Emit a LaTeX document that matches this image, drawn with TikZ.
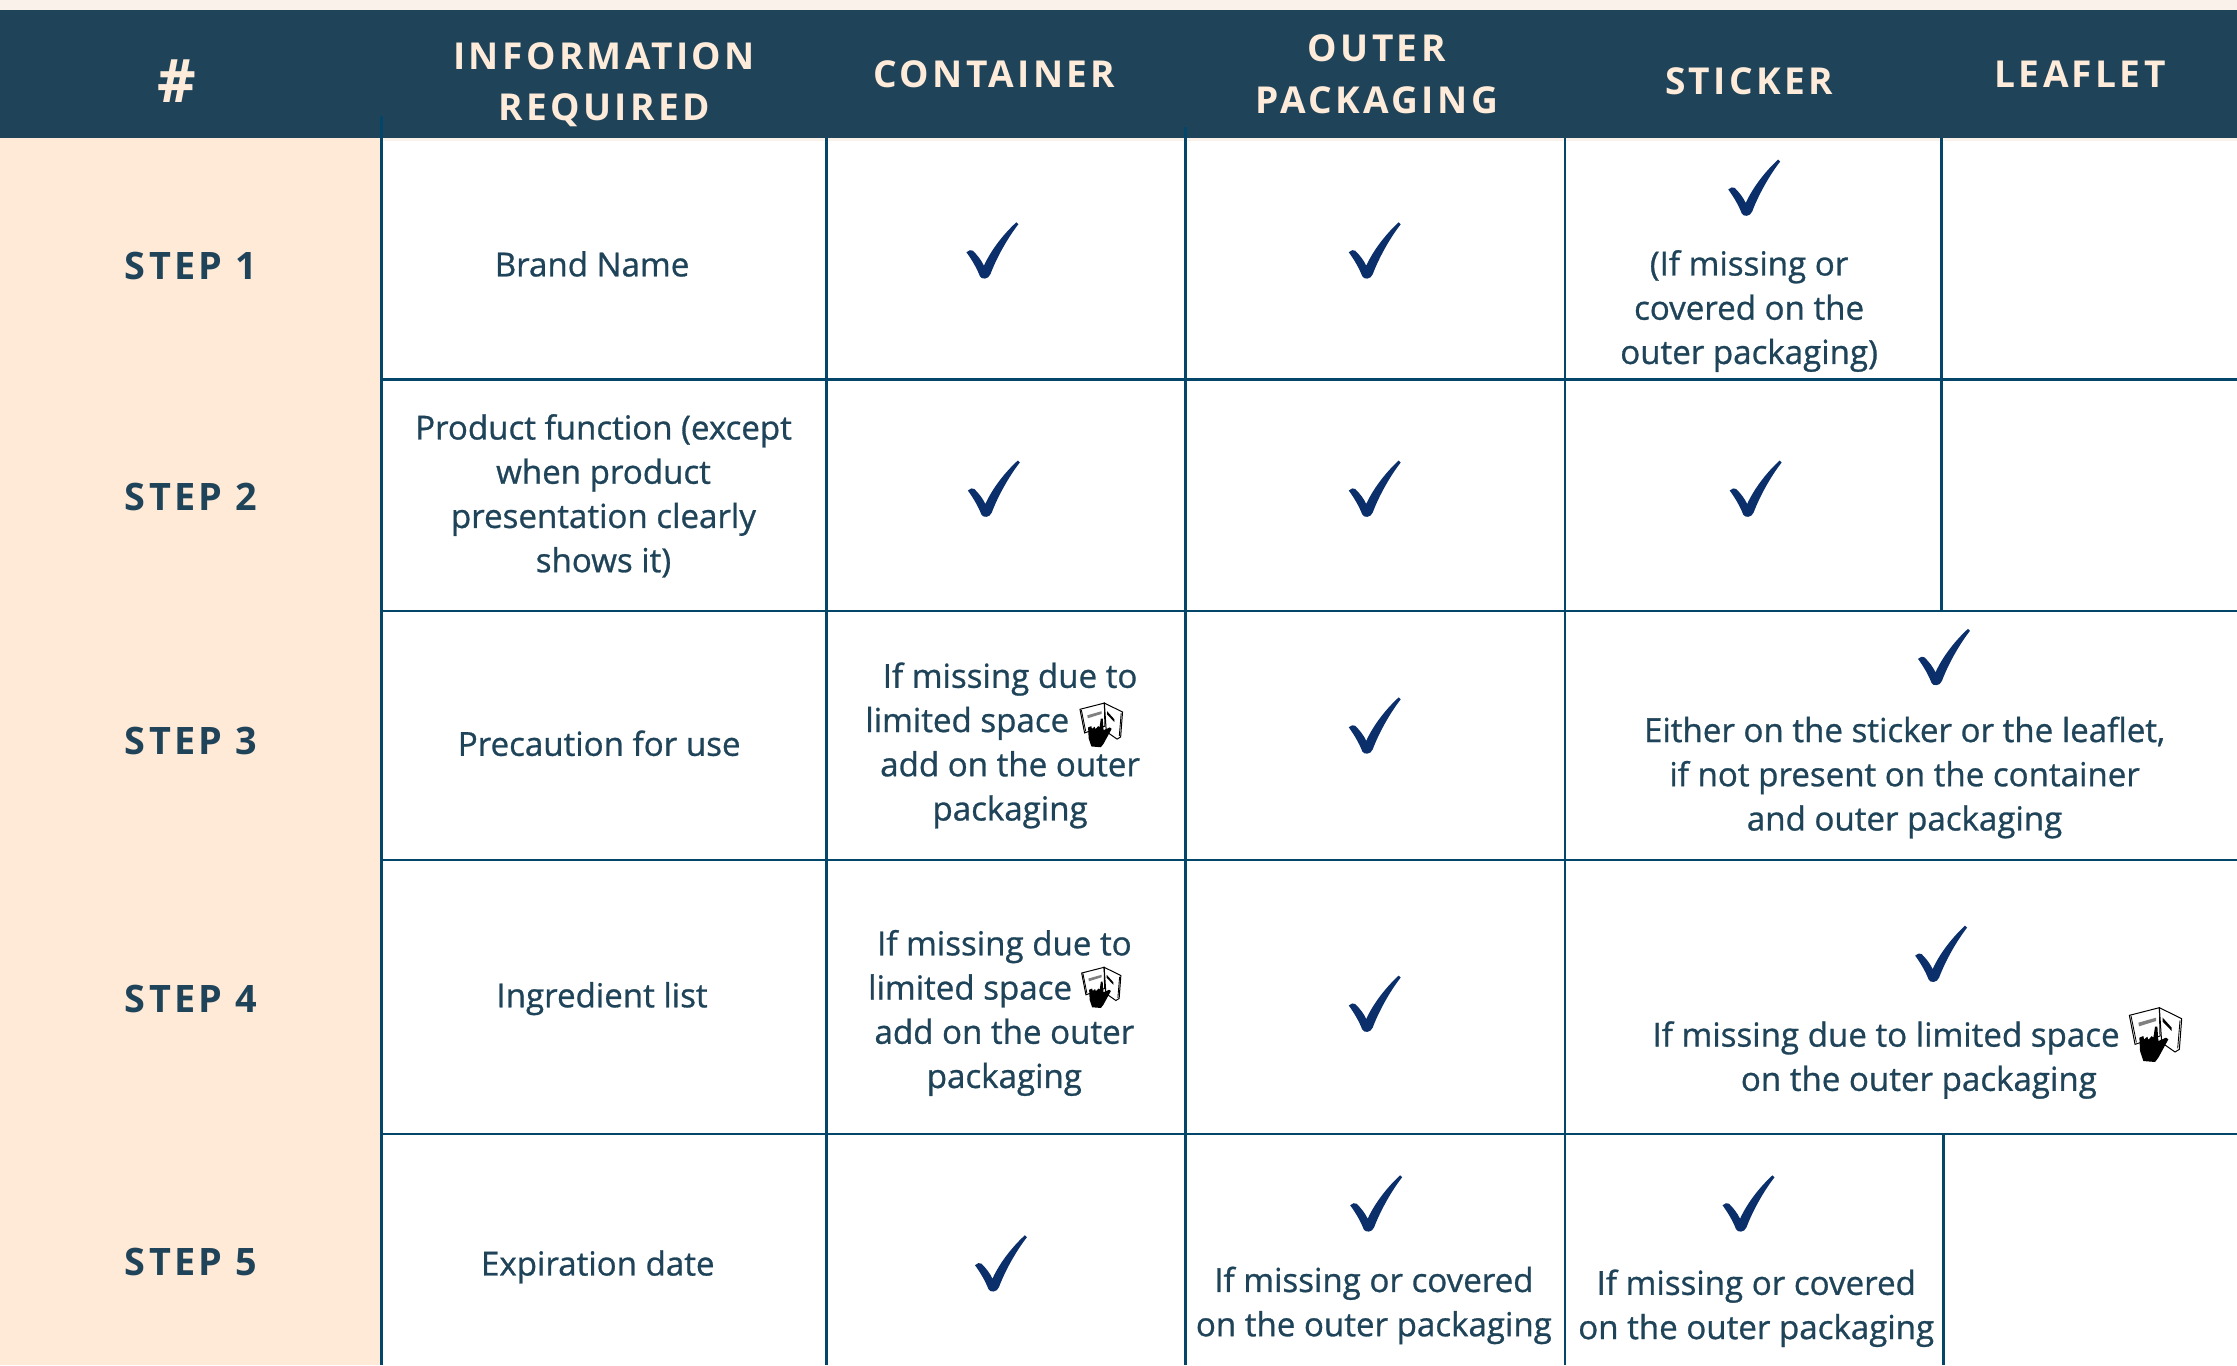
\documentclass[tikz,border=0pt]{standalone}
\usepackage{fontspec}
\setmainfont{Open Sans}
\newfontfamily\bodyf[FakeBold=0.85]{Open Sans}
\newfontfamily\headf[LetterSpace=9]{Open Sans}
\definecolor{navy}{HTML}{1F4459}
\definecolor{peach}{HTML}{FFE9D7}
\definecolor{strip}{HTML}{FBF1EB}
\definecolor{gridc}{HTML}{03466A}
\definecolor{tick}{HTML}{0B2F6B}
\definecolor{headtxt}{HTML}{FFEBDA}
\tikzset{
  cell/.style={inner sep=0pt,align=center,text=navy,font=\fontsize{23.2}{31}\selectfont\bodyf},
  head/.style={inner sep=0pt,align=center,text=headtxt,font=\fontsize{26}{36}\selectfont\headf\bfseries},
  steplab/.style={inner sep=0pt,text=navy,font=\fontsize{26.5}{36}\selectfont\headf\bfseries},
  vline/.style={draw=gridc,line width=2pt},
  hline/.style={draw=gridc,line width=1.5pt}
}
\newcommand{\tickmark}[2]{%
  \fill[tick,shift={(#1,#2)},x=0.7pt,y=-0.7pt]
    (-18,-26) .. controls (-16,-28.5) and (-13,-28.5) .. (-11.5,-27.5)
    .. controls (-7,-23) and (-3,-18) .. (-0.5,-12.5)
    .. controls (7,-29) and (20,-45) .. (32,-56)
    .. controls (33,-56) and (34,-55) .. (34,-54)
    .. controls (23,-40) and (12,-20) .. (6,-4)
    .. controls (4,1.5) and (-3,1.5) .. (-4.5,-2)
    .. controls (-8,-11) and (-13,-19) .. (-18,-26) -- cycle;}
\newcommand{\bookhand}[3]{%
  \begin{scope}[shift={(#1,#2)},x=#3pt,y=-#3pt]
    \filldraw[fill=white,draw=black,line width=0.7pt] (-79,-57) -- (11,-80) -- (13,5) -- (-62,30) -- cycle;
    \filldraw[fill=white,draw=black,line width=0.7pt] (11,-80) -- (78,-47) -- (71,45) -- (58,53) -- (18,25) -- cycle;
    \draw[black,line width=0.6pt] (-74,-55) -- (-58,24) (73,-42) -- (66,42);
    \fill[gray] (-52,-35) -- (1,-50) -- (1,-40) -- (-50,-24) -- cycle;
    \fill[black] (21,-50) -- (48,-20) -- (48,-10) -- (21,-38) -- cycle;
    \fill[black] (-2,-23) -- (5,-23) -- (8,20) -- (31,10) -- (38,15) -- (8,70) -- (-2,83) -- (-37,80) -- (-47,50) -- (-49,10) -- (-37,5) -- (-35,15) -- (-25,7) -- (-22,17) -- (-12,5) -- (-7,10) -- cycle;
  \end{scope}}
\begin{document}
\begin{tikzpicture}[x=1pt,y=-1pt]
\useasboundingbox (0,0) rectangle (1568,956.8);
\fill[white] (0,0) rectangle (1568,956.8);
\fill[strip] (0,0) rectangle (1568,7);
\fill[strip] (267,97) rectangle (1568,99);
\fill[peach] (0,97) rectangle (267,956.8);
\fill[navy] (0,7) rectangle (1568,97);
% grid
\coordinate (v1t) at (267.5,81); \coordinate (v1b) at (267.5,956.8);
\coordinate (v2t) at (579.5,97); \coordinate (v2b) at (579.5,956.8);
\coordinate (v3t) at (831,89); \coordinate (v3b) at (831,956.8);
\coordinate (v4t) at (1097,97); \coordinate (v4b) at (1097,956.8);
\coordinate (v5t) at (1361,97); \coordinate (v5b) at (1361,428);
\coordinate (v6t) at (1362,795); \coordinate (v6b) at (1362,956.8);
\draw[vline] (v1t) -- (v1b);
\draw[vline] (v2t) -- (v2b);
\draw[vline] (v3t) -- (v3b);
\draw[vline] (v4t) -- (v4b);
\draw[vline] (v5t) -- (v5b);
\draw[vline] (v6t) -- (v6b);
\coordinate (h1l) at (267,266); \coordinate (h1r) at (1568,266);
\coordinate (h2l) at (267,428); \coordinate (h2r) at (1568,428);
\coordinate (h3l) at (267,603); \coordinate (h3r) at (1568,603);
\coordinate (h4l) at (267,795); \coordinate (h4r) at (1568,795);
\draw[hline] (h1l) -- (h1r);
\draw[hline] (h2l) -- (h2r);
\draw[hline] (h3l) -- (h3r);
\draw[hline] (h4l) -- (h4r);
% header
\node[head,font=\fontsize{42}{42}\selectfont\bfseries] (hHash) at (124,57) {\#};
\node[head] (hInfo) at (423.5,59.5) {INFORMATION\\REQUIRED};
\node[head] (hCont) at (697,52) {CONTAINER};
\node[head] (hOuter) at (965,52) {OUTER\\PACKAGING};
\node[head] (hStick) at (1226,57) {STICKER};
\node[head] (hLeaf) at (1458,52) {LEAFLET};
% steps
\node[steplab] (s1) at (134,186.5) {STEP 1};
\node[steplab] (s2) at (134,348.5) {STEP 2};
\node[steplab] (s3) at (134,519.5) {STEP 3};
\node[steplab] (s4) at (134,700.5) {STEP 4};
\node[steplab] (s5) at (134,884.5) {STEP 5};
% info
\node[cell] (i1) at (415,185) {Brand Name};
\node[cell] (i2) at (423,347.5) {Product function (except\\when product\\presentation clearly\\shows it)};
\node[cell] (i3) at (420,521) {Precaution for use};
\node[cell] (i4) at (422,700) {Ingredient list};
\node[cell] (i5) at (419,888) {Expiration date};
% cells
\node[cell] (c3) at (708,522.5) {If missing due to\\limited space\rule{60pt}{0pt}\\add on the outer\\packaging};
\node[cell] (c4) at (704,710) {If missing due to\\limited space\rule{48pt}{0pt}\\add on the outer\\packaging};
\node[cell] (t1) at (1226,218) {(If missing or\\covered on the\\outer packaging)};
\node[cell] (t3) at (1335,545) {Either on the sticker or the leaflet,\\if not present on the container\\and outer packaging};
\node[cell] (t4) at (1345,743) {If missing due to limited space\rule{46pt}{0pt}\\on the outer packaging};
\node[cell] (o5) at (963,915) {If missing or covered\\on the outer packaging};
\node[cell] (t5) at (1231,917) {If missing or covered\\on the outer packaging};
% ticks
\tickmark{690}{195}\tickmark{958}{195}\tickmark{1224}{151}
\tickmark{691}{362}\tickmark{958}{362}\tickmark{1225}{362}
\tickmark{958}{528}\tickmark{1357}{480}
\tickmark{958}{723}\tickmark{1355}{688}
\tickmark{696}{905}\tickmark{959}{863}\tickmark{1220}{863}
% icons
\bookhand{772}{508}{0.19}
\bookhand{772}{692}{0.175}
\bookhand{1511}{725}{0.2336}
\end{tikzpicture}
\end{document}
